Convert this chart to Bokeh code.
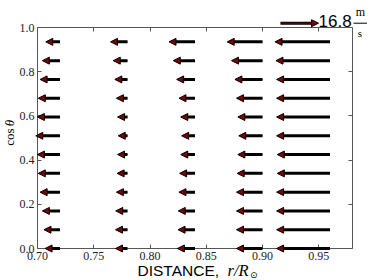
import numpy as np
from bokeh.plotting import figure
from bokeh.models import (ColumnDataSource, Arrow, NormalHead, Label, LinearAxis,
                          Range1d, FixedTicker, CustomJSTickFormatter)
from bokeh.embed import file_html
from bokeh.resources import INLINE

# ---------------- data ----------------
r_cols = [0.72, 0.78, 0.84, 0.90, 0.96]
cos_theta = [0.0, 0.085, 0.17, 0.255, 0.34, 0.425, 0.51, 0.595, 0.68, 0.765, 0.85, 0.935]
u_r072 = [-6.6, -7.1, -7.8, -8.8, -9.6, -10.0, -10.7, -10.0, -9.6, -8.8, -7.8, -6.3]
u_r078 = [-5.3, -5.3, -5.2, -4.9, -4.6, -4.4, -4.1, -4.4, -4.9, -5.6, -6.3, -7.5]
u_r084 = [-7.8, -7.5, -7.4, -7.1, -6.8, -6.3, -5.9, -6.3, -7.1, -8.1, -9.6, -11.5]
u_r090 = [-11.5, -11.5, -11.5, -11.5, -11.2, -10.9, -10.5, -10.9, -11.5, -12.2, -13.7, -15.6]
u_r096 = [-23.6, -23.6, -23.6, -23.6, -23.3, -23.3, -23.6, -23.6, -23.6, -23.6, -23.9, -24.3]
key_speed = 16.8
key_text = "16.8"
x_ticks = [0.70, 0.75, 0.80, 0.85, 0.90, 0.95]
y_ticks = [0.0, 0.2, 0.4, 0.6, 0.8, 1.0]
x_lim = (0.70, 0.98)
y_lim = (0.0, 1.0)

# ---------------- layout (pixels) / style ----------------
W, H = 374, 280
FL, FR, FT, FB = 37, 352, 27, 248          # visible axes box
dx = (x_lim[1] - x_lim[0]) / (FR - FL)
dy = (y_lim[1] - y_lim[0]) / (FB - FT)
def X(sx):
    return x_lim[0] + (sx - FL) * dx
def Y(sy):
    return y_lim[0] + (FB - sy) * dy

SCALE = 38 * dx / key_speed      # key arrow is 38 px long
RED = "#7a0000"
FRAME = "#555555"
SERIF = "Liberation Serif"
SANS = "Liberation Sans"

u_all = [u_r072, u_r078, u_r084, u_r090, u_r096]
x0, y0, x1, xi = [], [], [], []
for r, us in zip(r_cols, u_all):
    for c, u in zip(cos_theta, us):
        x0.append(r)
        y0.append(c)
        x1.append(r + u * SCALE)
        xi.append(r + u * SCALE + 5 * dx)
src = ColumnDataSource(dict(x0=x0, y0=y0, x1=x1, xi=xi))

p = figure(width=W, height=H, x_range=Range1d(X(0), X(W)), y_range=Range1d(Y(H), Y(0)),
           x_axis_type=None, y_axis_type=None,
           output_backend="svg", toolbar_location=None, min_border=0)
p.grid.visible = False
p.outline_line_color = None

def make_axis(ticks, fmt, loc, bounds, labels=True):
    ax = LinearAxis(fixed_location=loc, bounds=bounds)
    ax.ticker = FixedTicker(ticks=ticks)
    ax.axis_line_color = FRAME
    ax.major_tick_line_color = FRAME
    ax.major_tick_in = 4
    ax.major_tick_out = 0
    ax.minor_tick_line_color = None
    if labels:
        ax.major_label_overrides = {t: fmt.format(t) for t in ticks}
        ax.major_label_text_font = SERIF
        ax.major_label_text_font_size = "12px"
        ax.major_label_text_color = "#222222"
    else:
        ax.formatter = CustomJSTickFormatter(code="return ''")
        ax.major_label_standoff = 0
    return ax

bottom = make_axis(x_ticks, "{:.2f}", y_lim[0], x_lim)
bottom.major_label_standoff = 3
p.add_layout(bottom, "below")
left = make_axis(y_ticks, "{:.1f}", x_lim[0], y_lim)
left.major_label_standoff = 3
p.add_layout(left, "left")
p.add_layout(make_axis(x_ticks, "", y_lim[1], x_lim, labels=False), "above")
p.add_layout(make_axis(y_ticks, "", x_lim[1], y_lim, labels=False), "right")

# velocity arrows
p.add_layout(Arrow(end=NormalHead(size=7, fill_color=RED, line_color="black", line_width=1),
                   x_start="x0", y_start="y0", x_end="x1", y_end="y0", source=src,
                   line_color="black", line_width=3))
p.segment(x0="x0", y0="y0", x1="xi", y1="y0", source=src, line_color=RED, line_width=1)

# key
kx0, ky = X(280), Y(22.7)
p.add_layout(Arrow(end=NormalHead(size=7, fill_color=RED, line_color="black", line_width=1),
                   x_start=kx0, y_start=ky, x_end=kx0 + key_speed * SCALE, y_end=ky,
                   line_color="black", line_width=3))
p.add_layout(Arrow(end=None, x_start=kx0, y_start=ky, x_end=kx0 + key_speed * SCALE - 5 * dx,
                   y_end=ky, line_color=RED, line_width=1))
p.add_layout(Label(x=X(318), y=Y(20), text=key_text, text_font=SANS, text_font_size="17px",
                   text_baseline="middle", text_color="black"))
p.add_layout(Label(x=X(360), y=Y(11.5), text="m", text_font=SERIF, text_font_size="12px",
                   text_align="center", text_baseline="middle", text_color="black"))
p.add_layout(Arrow(end=None, x_start=X(353), y_start=ky, x_end=X(366.5), y_end=ky,
                   line_color="black", line_width=1))
p.add_layout(Label(x=X(359.5), y=Y(32), text="s", text_font=SERIF, text_font_size="11px",
                   text_align="center", text_baseline="middle", text_color="black"))

# axis labels
p.add_layout(Label(x=X(137), y=Y(269.5), text="DISTANCE,", text_font=SANS, text_font_size="15.5px",
                   text_baseline="middle", text_color="black"))
p.add_layout(Label(x=X(227), y=Y(269.5), text="r/R", text_font=SERIF, text_font_style="italic",
                   text_font_size="16.5px", text_baseline="middle", text_color="black"))
p.add_layout(Label(x=X(249.5), y=Y(274), text="\u2299", text_font="DejaVu Sans",
                   text_font_size="9px", text_baseline="middle", text_color="black"))
p.add_layout(Label(x=X(9), y=Y(136.5), text="cos", text_font=SERIF, text_font_size="13px",
                   angle=np.pi / 2, text_align="center", text_baseline="middle", text_color="black"))
p.add_layout(Label(x=X(9), y=Y(122.5), text="\u03b8", text_font=SERIF, text_font_style="italic",
                   text_font_size="13px", angle=np.pi / 2, text_align="center",
                   text_baseline="middle", text_color="black"))

open("out.html", "w").write(file_html(p, INLINE))
